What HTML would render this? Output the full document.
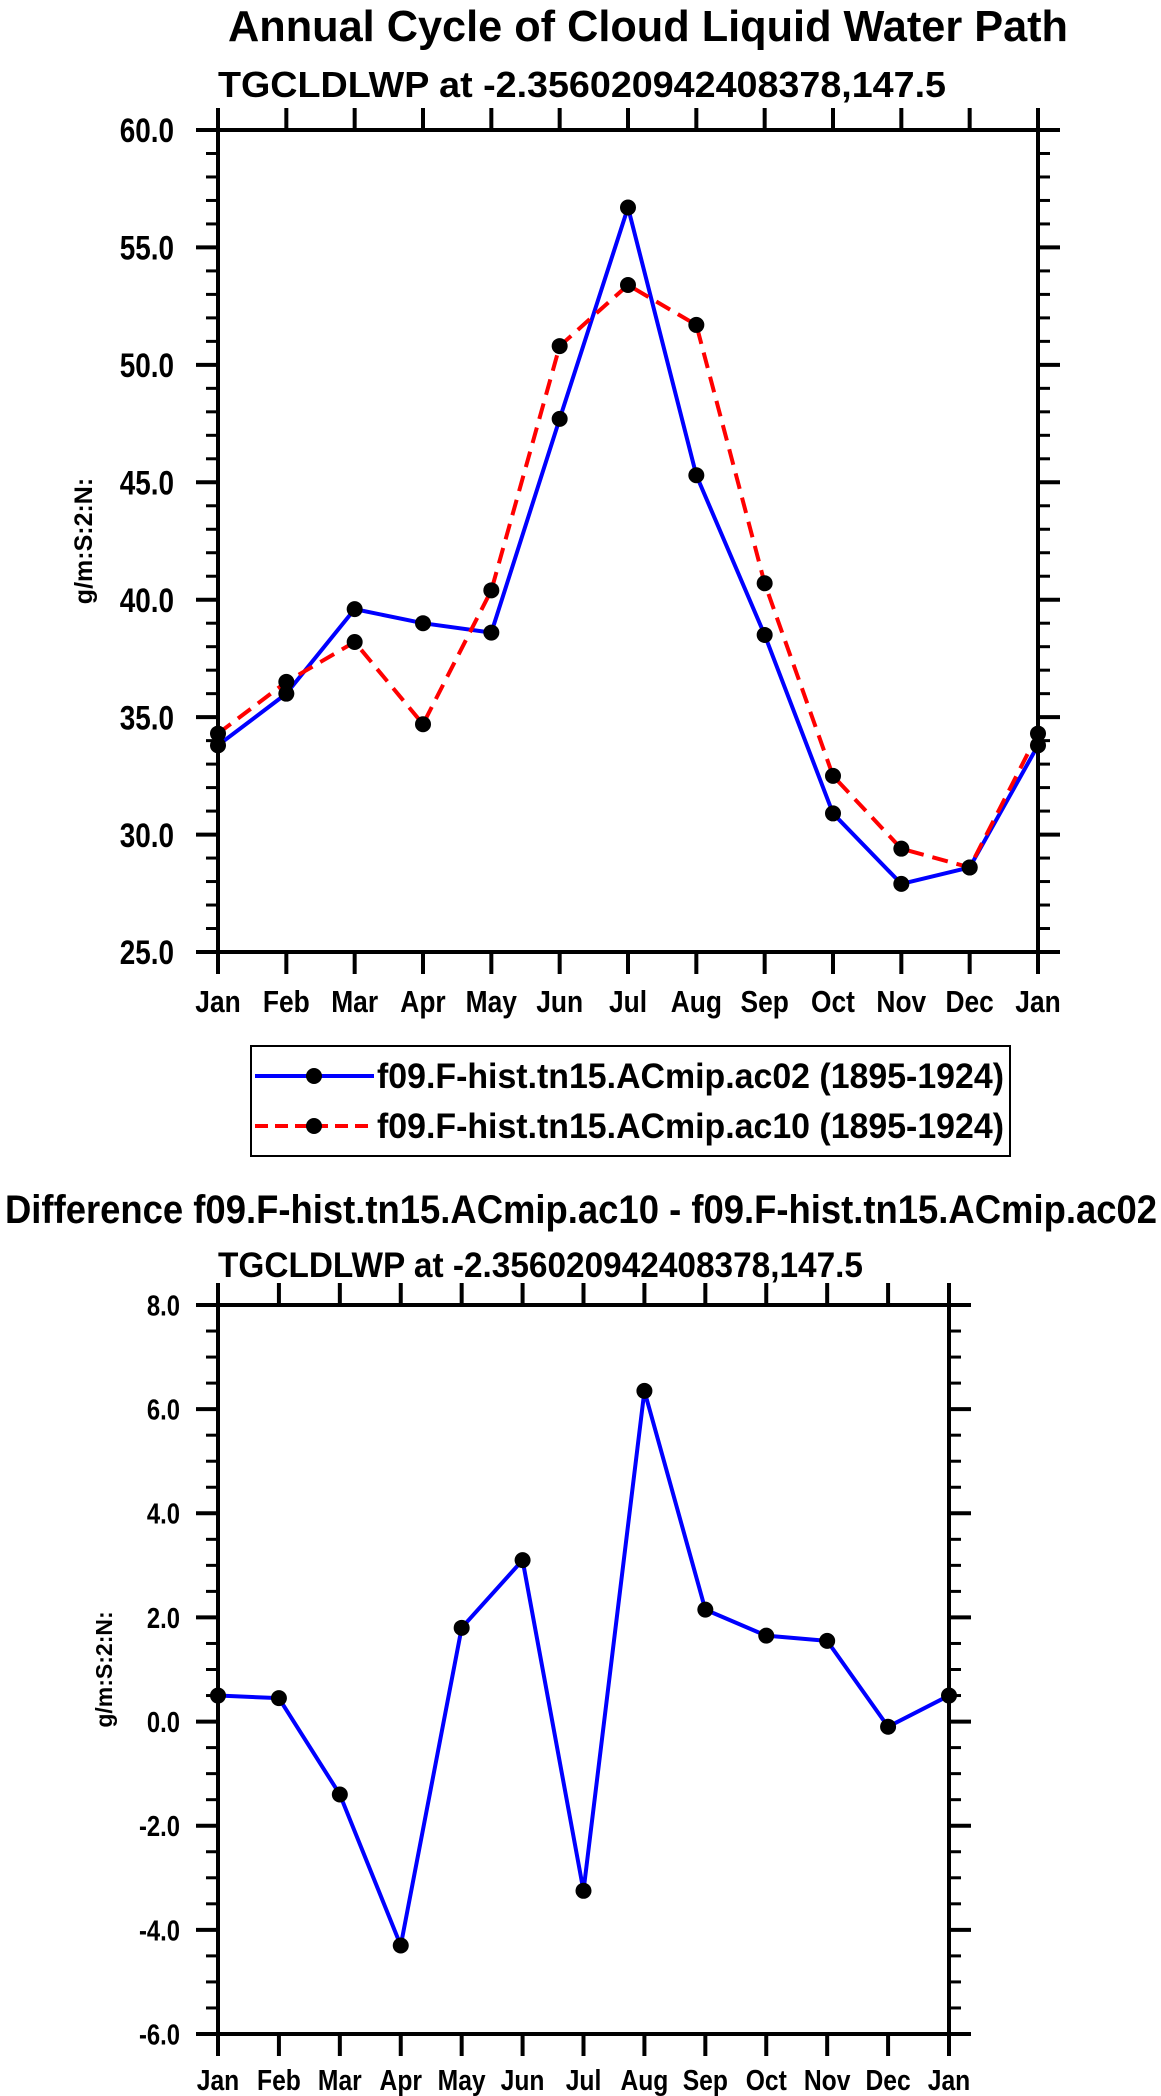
<!DOCTYPE html>
<html><head><meta charset="utf-8"><style>
html,body{margin:0;padding:0;background:#fff;}
svg{display:block;font-family:"Liberation Sans",sans-serif;font-weight:bold;}
</style></head><body>
<svg id="root" width="1161" height="2096" viewBox="0 0 1161 2096" xmlns="http://www.w3.org/2000/svg">
<text x="648" y="41" text-anchor="middle" font-size="44" textLength="840" lengthAdjust="spacingAndGlyphs">Annual Cycle of Cloud Liquid Water Path</text>
<text x="218" y="97" font-size="36" textLength="728" lengthAdjust="spacingAndGlyphs">TGCLDLWP at -2.356020942408378,147.5</text>
<g id="top"></g>
<g>
<rect x="251" y="1046" width="759" height="110" fill="#fff" stroke="#000" stroke-width="2"/>
<g>
<line x1="255" y1="1076" x2="374" y2="1076" stroke="#0000ff" stroke-width="4"/>
<circle cx="314" cy="1076" r="8" fill="#000"/>
<text x="377" y="1088" font-size="35" textLength="627" lengthAdjust="spacingAndGlyphs">f09.F-hist.tn15.ACmip.ac02 (1895-1924)</text>
</g>
<g>
<line x1="255" y1="1126" x2="374" y2="1126" stroke="#ff0000" stroke-width="4" stroke-dasharray="13,7"/>
<circle cx="314" cy="1126" r="8" fill="#000"/>
<text x="377" y="1138" font-size="35" textLength="627" lengthAdjust="spacingAndGlyphs">f09.F-hist.tn15.ACmip.ac10 (1895-1924)</text>
</g>
</g>
<text x="581" y="1223" text-anchor="middle" font-size="40" textLength="1152" lengthAdjust="spacingAndGlyphs">Difference f09.F-hist.tn15.ACmip.ac10 - f09.F-hist.tn15.ACmip.ac02</text>
<text x="218" y="1277" font-size="35" textLength="645" lengthAdjust="spacingAndGlyphs">TGCLDLWP at -2.356020942408378,147.5</text>
<g id="bot"></g>
</svg>
<script>
const months = ["Jan","Feb","Mar","Apr","May","Jun","Jul","Aug","Sep","Oct","Nov","Dec","Jan"];
const ac02 = [33.8,36.0,39.6,39.0,38.6,47.7,56.7,45.3,38.5,30.9,27.9,28.6,33.8];
const ac10 = [34.3,36.5,38.2,34.7,40.4,50.8,53.4,51.7,40.7,32.5,29.4,28.6,34.3];
const diff = [0.5,0.45,-1.4,-4.3,1.8,3.1,-3.25,6.35,2.15,1.65,1.55,-0.1,0.5];
const topTicks = [25,30,35,40,45,50,55,60];
const botTicks = [-6,-4,-2,0,2,4,6,8];

const NS="http://www.w3.org/2000/svg";
function mk(parent,tag,attrs,txt){const e=document.createElementNS(NS,tag);for(const k in attrs)e.setAttribute(k,attrs[k]);if(txt!==undefined)e.textContent=txt;parent.appendChild(e);return e;}
function condense(t,f){const w=t.getComputedTextLength();t.setAttribute('textLength',(w*f).toFixed(1));t.setAttribute('lengthAdjust','spacingAndGlyphs');}

function chart(g,o){
  const L=o.left,R=o.right,T=o.top,B=o.bottom;
  const n=months.length;
  const x=i=>L+(R-L)*i/(n-1);
  const y=v=>B-(B-T)*(v-o.min)/(o.max-o.min);
  for(let v=o.min;v<=o.max+1e-9;v+=o.minor){
    const yy=y(v);
    const l1=mk(g,'line',{x1:L-12,y1:yy,x2:L,y2:yy,stroke:'#000','stroke-width':3});
    
    
    const l2=mk(g,'line',{x1:R,y1:yy,x2:R+12,y2:yy,stroke:'#000','stroke-width':3});
    
    
  }
  o.ticks.forEach(v=>{
    const yy=y(v);
    const l1=mk(g,'line',{x1:L-22,y1:yy,x2:L,y2:yy,stroke:'#000','stroke-width':4});
    
    
    const l2=mk(g,'line',{x1:R,y1:yy,x2:R+22,y2:yy,stroke:'#000','stroke-width':4});
    
    
    const t=mk(g,'text',{x:o.labelRight,y:yy+o.tickFont*0.36,'text-anchor':'end','font-size':o.tickFont},v.toFixed(1));
    
    
    condense(t,0.82);
  });
  months.forEach((m,i)=>{
    const xx=x(i);
    const a=mk(g,'line',{x1:xx,y1:T-22,x2:xx,y2:T,stroke:'#000','stroke-width':4});
    
    
    const b=mk(g,'line',{x1:xx,y1:B,x2:xx,y2:B+22,stroke:'#000','stroke-width':4});
    
    
    const t=mk(g,'text',{x:xx,y:o.xLabelY,'text-anchor':'middle','font-size':o.xFont},m);
    
    
    condense(t,0.85);
  });
  const frame=mk(g,'rect',{x:L,y:T,width:R-L,height:B-T,fill:'none',stroke:'#000','stroke-width':4});
  
  
  const yt=mk(g,'text',{x:0,y:0,'text-anchor':'middle','font-size':o.ytFont,transform:`translate(${o.ytX},${(T+B)/2}) rotate(-90)`},'g/m:S:2:N:');
  
  
  o.series.forEach(s=>{
    const pts=s.data.map((v,i)=>x(i)+','+y(v)).join(' ');
    const pl=mk(g,'polyline',{points:pts,fill:'none',stroke:s.color,'stroke-width':4,'stroke-linejoin':'round'});
    if(s.dash)pl.setAttribute('stroke-dasharray',s.dash);
    
    
  });
  o.series.forEach(s=>{
    s.data.forEach((v,i)=>{
      const c=mk(g,'circle',{cx:x(i),cy:y(v),r:8,fill:'#000'});
      
      
    });
  });
}
chart(document.getElementById('top'),{left:218,right:1038,top:130,bottom:952,min:25,max:60,minor:1,ticks:topTicks,
  labelRight:174,tickFont:34,xLabelY:1012,xFont:31,ytX:92,ytFont:25,
  series:[{name:'ac02',data:ac02,color:'#0000ff'},{name:'ac10',data:ac10,color:'#ff0000',dash:'16,9'}]});
chart(document.getElementById('bot'),{left:218,right:949,top:1305,bottom:2034,min:-6,max:8,minor:0.5,ticks:botTicks,
  labelRight:180,tickFont:29,xLabelY:2090,xFont:29,ytX:112,ytFont:23,
  series:[{name:'diff',data:diff,color:'#0000ff'}]});
</script>
</body></html>
